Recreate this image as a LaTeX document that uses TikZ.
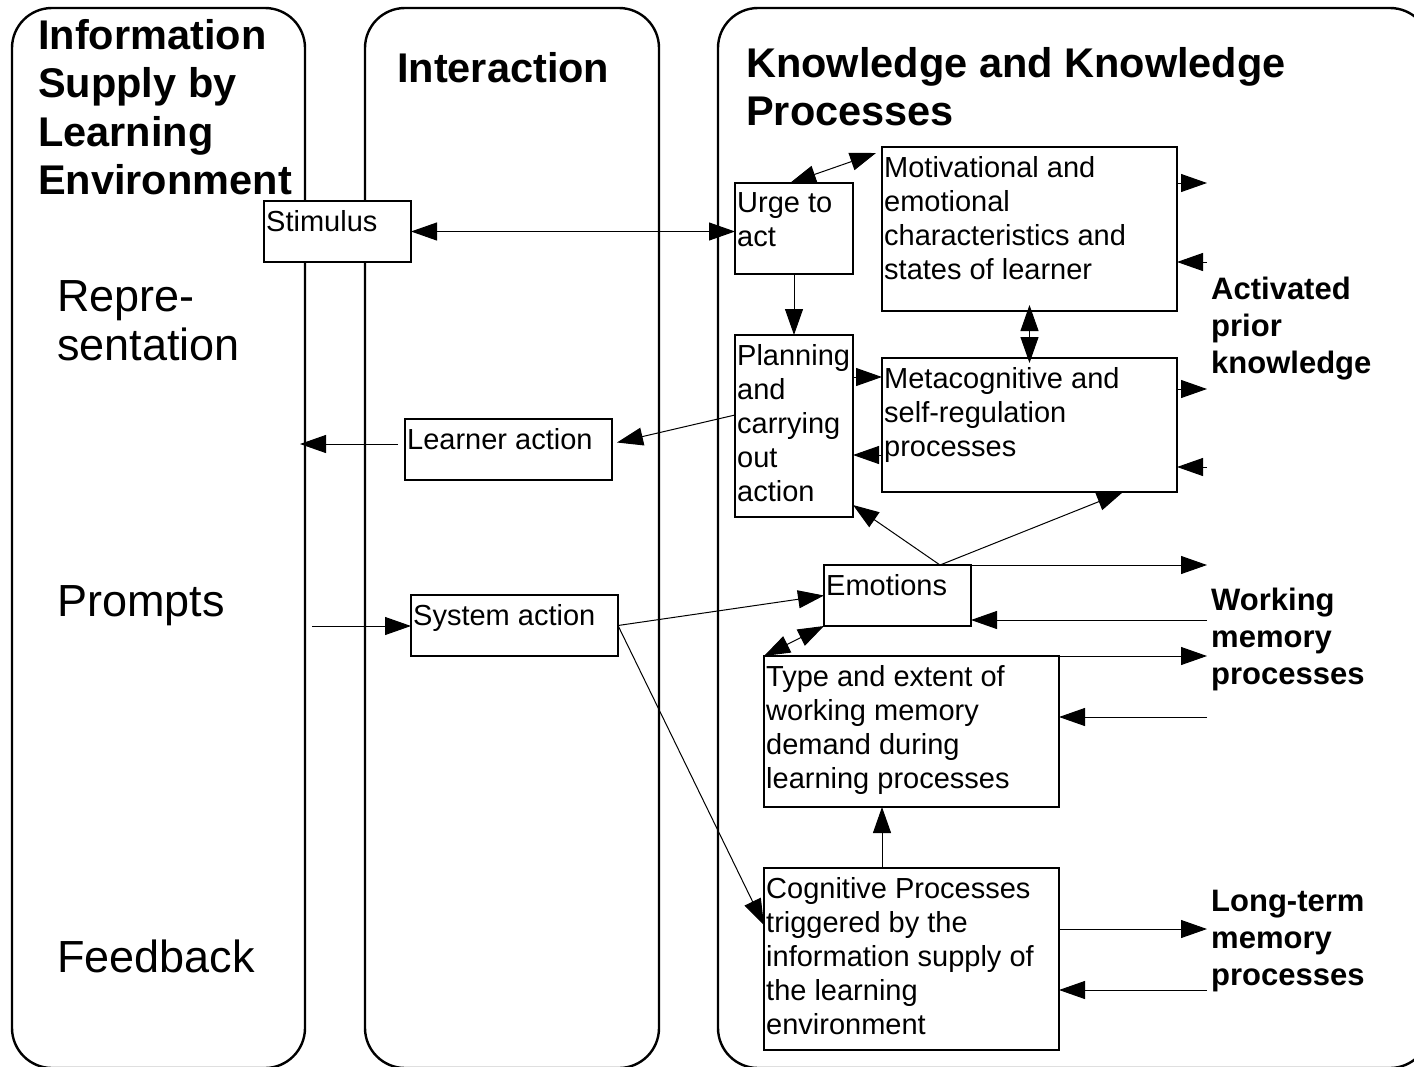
\documentclass[tikz,border=0pt]{standalone}
\usepackage{fontspec}
\setmainfont{Liberation Sans}
\usetikzlibrary{arrows.meta}
\begin{document}
\begin{tikzpicture}[x=1pt,y=-1pt,
  col/.style={draw, line width=2.4pt, rounded corners=40pt},
  box/.style={draw, fill=white, line width=2.1pt, inner sep=0pt, outer sep=0pt, anchor=north west},
  txt/.style={anchor=north west, inner sep=0pt, align=left, font=\fontsize{29}{34}\selectfont},
  head/.style={anchor=north west, inner sep=0pt, align=left, font=\bfseries\fontsize{41.5}{48.5}\selectfont},
  side/.style={anchor=north west, inner sep=0pt, align=left, font=\bfseries\fontsize{31}{37}\selectfont},
  big/.style={anchor=north west, inner sep=0pt, align=left, font=\fontsize{45}{49}\selectfont},
  conn/.style={line width=1pt, -{Triangle[length=26pt,width=18pt]}},
  conntwo/.style={line width=1pt, {Triangle[length=26pt,width=18pt]}-{Triangle[length=26pt,width=18pt]}},
]
\useasboundingbox (0,0) rectangle (1414,1066);
\clip (0,0) rectangle (1414,1066);

% columns
\draw[col] (12,8) rectangle (305,1068);
\draw[col] (365,8) rectangle (659,1068);
\draw[col] (718,8) rectangle (1430,1068);

% column headings
\node[head] (h1) at (38,19) {Information\\Supply by\\Learning\\Environment};
\node[head] (h2) at (397,52) {Interaction};
\node[head] (h3) at (746,47) {Knowledge and Knowledge\\Processes};

\node[big] (rep) at (57,280) {Repre-\\sentation};
\node[big] (prm) at (57,585) {Prompts};
\node[big] (fdb) at (57,940) {Feedback};

\node[side] (act) at (1211,277) {Activated\\prior\\knowledge};
\node[side] (wmp) at (1211,588) {Working\\memory\\processes};
\node[side] (ltm) at (1211,890) {Long-term\\memory\\processes};

% boxes
\node[box, minimum width=147pt, minimum height=61pt] (stim) at (264,201) {};
\node[box, minimum width=118pt, minimum height=91pt] (urge) at (735,183) {};
\node[box, minimum width=295pt, minimum height=164pt] (mot) at (882,147) {};
\node[box, minimum width=118pt, minimum height=182pt] (plan) at (735,335) {};
\node[box, minimum width=295pt, minimum height=134pt] (meta) at (882,358) {};
\node[box, minimum width=207pt, minimum height=61pt] (learn) at (405,419) {};
\node[box, minimum width=207pt, minimum height=61pt] (sys) at (411,595) {};
\node[box, minimum width=147pt, minimum height=61pt] (emo) at (824,565) {};
\node[box, minimum width=295pt, minimum height=151pt] (type) at (764,656) {};
\node[box, minimum width=295pt, minimum height=182pt] (cog) at (764,868) {};

% box texts
\node[txt] (stimT) at ([shift={(2,9)}]stim.north west) {Stimulus};
\node[txt] (urgeT) at ([shift={(2,9)}]urge.north west) {Urge to\\act};
\node[txt] (motT) at ([shift={(2,9)}]mot.north west) {Motivational and\\emotional\\characteristics and\\states of learner};
\node[txt] (planT) at ([shift={(2,9)}]plan.north west) {Planning\\and\\carrying\\out\\action};
\node[txt] (metaT) at ([shift={(2,9)}]meta.north west) {Metacognitive and\\self-regulation\\processes};
\node[txt] (learnT) at ([shift={(2,9)}]learn.north west) {Learner action};
\node[txt] (sysT) at ([shift={(2,9)}]sys.north west) {System action};
\node[txt] (emoT) at ([shift={(2,9)}]emo.north west) {Emotions};
\node[txt] (typeT) at ([shift={(2,9)}]type.north west) {Type and extent of\\working memory\\demand during\\learning processes};
\node[txt] (cogT) at ([shift={(2,9)}]cog.north west) {Cognitive Processes\\triggered by the\\information supply of\\the learning\\environment};

% free ends
\coordinate (lleft) at (300,444);
\coordinate (pin) at (312,626);
\coordinate (rA) at (1207,183);
\coordinate (rB) at (1207,262);
\coordinate (rC) at (1207,389);
\coordinate (rD) at (1207,467);
\coordinate (rE) at (1207,565);
\coordinate (rF) at (1207,620);
\coordinate (rG) at (1207,656);
\coordinate (rH) at (1207,717);
\coordinate (rI) at (1207,929);
\coordinate (rJ) at (1207,990);

% connectors
\draw[conntwo] (stim.east) -- (stim.east -| urge.west);
\draw[conntwo] ([xshift=-4pt]urge.north) -- ([shift={(-6,6)}]mot.north west);
\draw[conn] (urge.south) -- (plan.north);
\draw[conn] (plan.east |- 0,377) -- (meta.west |- 0,377);
\draw[conn] (meta.west |- 0,455) -- (plan.east |- 0,455);
\draw[conntwo] ([shift={(0,-6)}]mot.south) -- ([shift={(0,5)}]meta.north);
\draw[conn] (plan.west |- 0,415) -- ([shift={(5,-7)}]learn.east);
\draw[conn, shorten <=7pt] (learn.west |- lleft) -- (lleft);
\draw[conn] (pin) -- (pin -| sys.west);
\draw[conn] (sys.east) -- (emo.west);
\draw[conn] (sys.east) -- (cog.west |- 0,925);
\draw[conn] (emo.north -| 940,0) -- ([shift={(0,-12)}]plan.south east);
\draw[conn] (emo.north -| 940,0) -- (meta.south -| 1123,0);
\draw[conn] (emo.north east) -- (rE);
\draw[conn] (rF) -- (emo.east |- rF);
\draw[conntwo] (emo.south west) -- (type.north west);
\draw[conn] (type.north east) -- (rG);
\draw[conn] (rH) -- (type.east |- rH);
\draw[conn] (cog.north -| 882,0) -- (type.south -| 882,0);
\draw[conn] (cog.east |- rI) -- (rI);
\draw[conn] (rJ) -- (cog.east |- rJ);
\draw[conn] (mot.east |- rA) -- (rA);
\draw[conn] (rB) -- (mot.east |- rB);
\draw[conn] (meta.east |- rC) -- (rC);
\draw[conn] (rD) -- (meta.east |- rD);
\end{tikzpicture}
\end{document}
